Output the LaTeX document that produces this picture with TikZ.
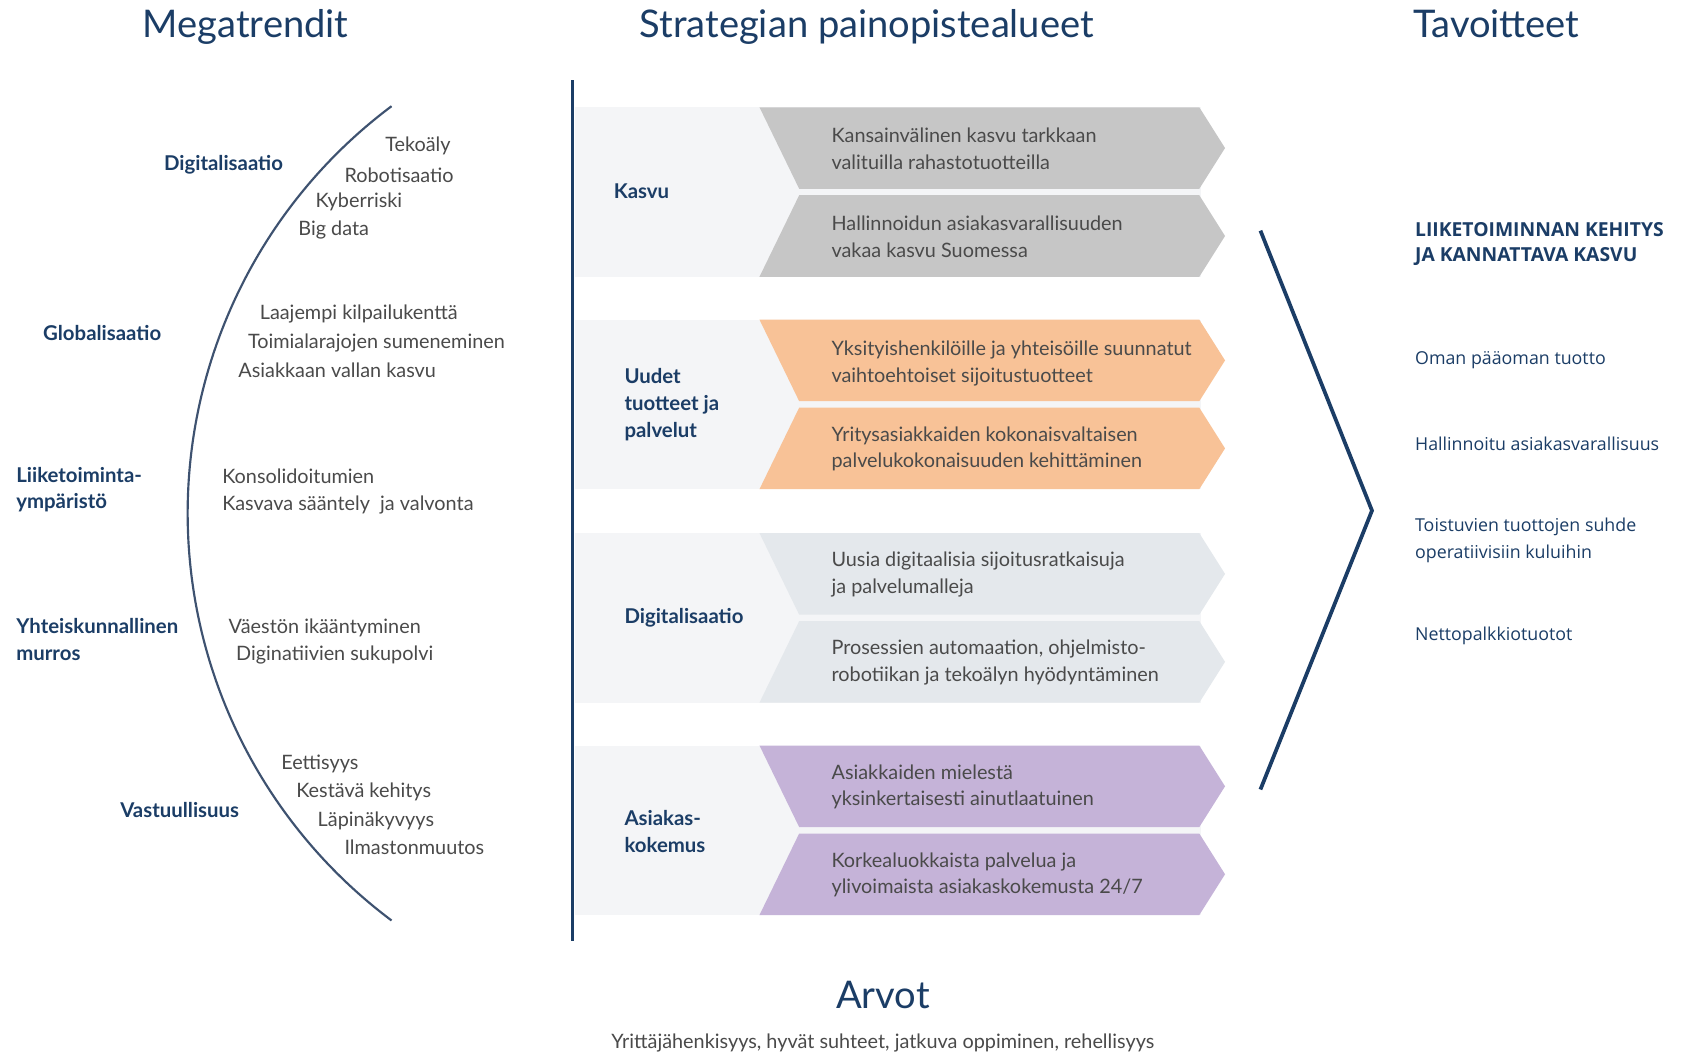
\documentclass[tikz,border=0pt]{standalone}
\usepackage{fontspec}
\setmainfont{Lato}
\newfontfamily\rfont{Open Sans}
\definecolor{navy}{HTML}{1B3D66}
\definecolor{txt}{HTML}{4A4A4A}
\definecolor{cgray}{HTML}{C6C6C6}
\definecolor{corange}{HTML}{F8C297}
\definecolor{cblue}{HTML}{E4E8EC}
\definecolor{cpurple}{HTML}{C5B3D8}
\definecolor{panel}{HTML}{F4F5F7}
\definecolor{arcc}{HTML}{3E5270}
\begin{document}
\begin{tikzpicture}[x=1pt,y=-1pt,
  title/.style={text=navy, font=\fontsize{35.5}{40}\selectfont, inner sep=0, anchor=base},
  trend/.style={text=navy, font=\bfseries\fontsize{19}{25}\selectfont, anchor=west, align=left, inner sep=0, yshift=-1.5pt},
  item/.style={text=txt, font=\fontsize{18.5}{25}\selectfont, anchor=west, inner sep=0, yshift=-2pt},
  ctext/.style={text=txt, font=\fontsize{18.5}{25}\selectfont, anchor=west, align=left, inner sep=0, yshift=-1.5pt},
  goal/.style={text=navy, font=\rfont\fontsize{16.6}{25}\selectfont, anchor=west, align=left, inner sep=0, yshift=-2pt},
  goalb/.style={text=navy, font=\rfont\bfseries\fontsize{18}{24}\selectfont, anchor=west, align=left, inner sep=0, yshift=-1.5pt},
]
\useasboundingbox[fill=white] (0,0) rectangle (1568,980);

% titles
\node[title] (t1) at (229,35) {Megatrendit};
\node[title] (t2) at (808,35) {Strategian painopistealueet};
\node[title] (t3) at (1395,35) {Tavoitteet};

% arc
\draw[arcc, line width=2] (365,99) arc[start angle=233.2, end angle=126.8, radius=474];

% megatrend labels
\node[trend, anchor=east] (m1) at (264,152) {Digitalisaatio};
\node[trend] (m2) at (40,309) {Globalisaatio};
\node[trend] (m3) at (15,455) {Liiketoiminta-\\ympäristö};
\node[trend] (m4) at (15,595) {Yhteiskunnallinen\\murros};
\node[trend] (m5) at (112,754) {Vastuullisuus};

% items
\node[item] (i1) at (359,134) {Tekoäly};
\node[item] (i2) at (321,161) {Robotisaatio};
\node[item] (i3) at (294,186) {Kyberriski};
\node[item] (i4) at (278,212) {Big data};
\node[item] (i5) at (242,291) {Laajempi kilpailukenttä};
\node[item] (i6) at (231,318) {Toimialarajojen sumeneminen};
\node[item] (i7) at (222,343) {Asiakkaan vallan kasvu};
\node[item] (i8) at (207,442) {Konsolidoitumien};
\node[item] (i9) at (207,469) {Kasvava sääntely\ \ ja valvonta};
\node[item] (i10) at (213,583) {Väestön ikääntyminen};
\node[item] (i11) at (220,609) {Diginatiivien sukupolvi};
\node[item] (i12) at (262,710) {Eettisyys};
\node[item] (i13) at (276,736) {Kestävä kehitys};
\node[item] (i14) at (296,763) {Läpinäkyvyys};
\node[item] (i15) at (321,788) {Ilmastonmuutos};

% vertical separator
\coordinate (v1) at (534,75);
\coordinate (v2) at (534,877);
\draw[navy, line width=2.5] (v1) -- (v2);

% chevron groups
\foreach \t/\c in {100/cgray,298/corange,497/cblue,695/cpurple} {
  \fill[panel] (536,\t) rectangle (1120,\t+158);
  \fill[\c] (708,\t) -- (1118,\t) -- (1142,\t+38) -- (1118,\t+76) -- (745,\t+76) -- cycle;
  \fill[\c] (745,\t+82) -- (1118,\t+82) -- (1142,\t+120) -- (1118,\t+158) -- (708,\t+158) -- cycle;
}

% group labels
\node[trend] (g1) at (572,177) {Kasvu};
\node[trend] (g2) at (582,376) {Uudet\\tuotteet ja\\palvelut};
\node[trend] (g3) at (582,574) {Digitalisaatio};
\node[trend] (g4) at (582,774) {Asiakas-\\kokemus};

% chevron texts
\node[ctext] (c1) at (775,137) {Kansainvälinen kasvu tarkkaan\\valituilla rahastotuotteilla};
\node[ctext] (c2) at (775,219) {Hallinnoidun asiakasvarallisuuden\\vakaa kasvu Suomessa};
\node[ctext] (c3) at (775,337) {Yksityishenkilöille ja yhteisöille suunnatut\\vaihtoehtoiset sijoitustuotteet};
\node[ctext] (c4) at (775,417) {Yritysasiakkaiden kokonaisvaltaisen\\palvelukokonaisuuden kehittäminen};
\node[ctext] (c5) at (775,534) {Uusia digitaalisia sijoitusratkaisuja\\ja palvelumalleja};
\node[ctext] (c6) at (775,616) {Prosessien automaation, ohjelmisto-\\robotiikan ja tekoälyn hyödyntäminen};
\node[ctext] (c7) at (775,732) {Asiakkaiden mielestä\\yksinkertaisesti ainutlaatuinen};
\node[ctext] (c8) at (775,814) {Korkealuokkaista palvelua ja\\ylivoimaista asiakaskokemusta 24/7};

% big right chevron line
\coordinate (r1) at (1175,215);
\coordinate (r2) at (1279,476);
\coordinate (r3) at (1175,736);
\draw[navy, line width=3.5, line join=miter] (r1) -- (r2) -- (r3);

% goals
\node[goalb] (o1) at (1319,226) {LIIKETOIMINNAN KEHITYS\\JA KANNATTAVA KASVU};
\node[goal] (o2) at (1319,334) {Oman pääoman tuotto};
\node[goal] (o3) at (1319,412) {Hallinnoitu asiakasvarallisuus};
\node[goal] (o4) at (1319,502) {Toistuvien tuottojen suhde\\operatiivisiin kuluihin};
\node[goal] (o5) at (1319,591) {Nettopalkkiotuotot};

% values
\node[title] (a1) at (823,940) {Arvot};
\node[item, anchor=center] (a2) at (823,970) {Yrittäjähenkisyys, hyvät suhteet, jatkuva oppiminen, rehellisyys};
\end{tikzpicture}
\end{document}
